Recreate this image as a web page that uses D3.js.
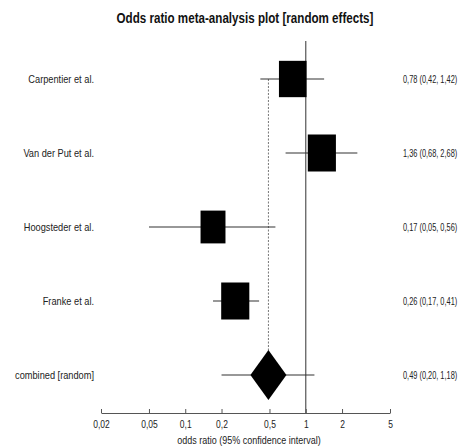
<!DOCTYPE html>
<html><head><meta charset="utf-8">
<script src="https://cdn.jsdelivr.net/npm/d3@7"></script>
<style>
body{margin:0;background:#fff;}
text{font-family:"Liberation Sans",Arial,sans-serif;fill:#222;}
</style></head>
<body>
<svg id="chart" width="461" height="448"></svg>
<script>
const studies = ["Carpentier et al.", "Van der Put et al.", "Hoogsteder et al.", "Franke et al."];
const estimates = [0.78, 1.36, 0.17, 0.26];
const lower = [0.42, 0.68, 0.05, 0.17];
const upper = [1.42, 2.68, 0.56, 0.41];
const weights = [27, 28, 22, 28];
const combinedLabel = "combined [random]";
const combinedEst = [0.49];
const combinedLower = [0.20];
const combinedUpper = [1.18];
const tickValues = [0.02, 0.05, 0.1, 0.2, 0.5, 1, 2, 5];
const tickLabels = ["0,02", "0,05", "0,1", "0,2", "0,5", "1", "2", "5"];
const title = "Odds ratio meta-analysis plot [random effects]";
const xTitle = "odds ratio (95% confidence interval)";

const fmt = v => v.toFixed(2).replace(".", ",");
const svg = d3.select("#chart");
const x = d3.scaleLog().domain([0.02, 5]).range([101, 390]);
const rows = studies.concat([combinedLabel]);
const y = d3.scalePoint().domain(rows).range([79, 375]);
const boxH = d3.scaleSqrt().domain([0, 28]).range([0, 37]);

// condensed text helper (horizontal squeeze like the reference)
function ctext(sel, px, py, sx, size, anchor) {
  return sel.append("text").attr("transform", `translate(${px},${py}) scale(${sx},1)`)
    .attr("text-anchor", anchor || "start").style("font-size", size + "px");
}

ctext(svg, 245, 23, 0.83, 14, "middle").style("font-weight", "bold").style("fill", "#111").text(title);

// reference line at 1
svg.append("line").attr("x1", x(1)).attr("x2", x(1)).attr("y1", 41).attr("y2", 413)
  .attr("stroke", "#555").attr("stroke-width", 1.2);
// dotted line at combined estimate
svg.append("line").attr("x1", x(combinedEst[0])).attr("x2", x(combinedEst[0])).attr("y1", y(studies[0])).attr("y2", 351)
  .attr("stroke", "#777").attr("stroke-width", 1).attr("stroke-dasharray", "2,1.5");

const data = studies.map((s, i) => ({s, est: estimates[i], lo: lower[i], hi: upper[i], w: weights[i]}));
const g = svg.append("g");
g.selectAll("line.ci").data(data).join("line").attr("class", "ci")
  .attr("x1", d => x(d.lo)).attr("x2", d => x(d.hi))
  .attr("y1", d => y(d.s)).attr("y2", d => y(d.s)).attr("stroke", "#333").attr("stroke-width", 1.2);
g.selectAll("rect").data(data).join("rect")
  .attr("x", d => x(d.est) - boxH(d.w) * 0.38).attr("width", d => boxH(d.w) * 0.76)
  .attr("y", d => y(d.s) - boxH(d.w) / 2).attr("height", d => boxH(d.w)).attr("fill", "#000");

data.forEach(d => {
  ctext(svg, 94, y(d.s) + 3.5, 0.88, 10.5, "end").text(d.s);
  ctext(svg, 403, y(d.s) + 3.5, 0.74, 10).text(`${fmt(d.est)} (${fmt(d.lo)}, ${fmt(d.hi)})`);
});

// combined
const cy = y(combinedLabel);
svg.append("line").attr("x1", x(combinedLower[0])).attr("x2", x(combinedUpper[0])).attr("y1", cy).attr("y2", cy)
  .attr("stroke", "#333").attr("stroke-width", 1.2);
const cx = x(combinedEst[0]);
svg.append("path").attr("d", `M${cx - 18},${cy}L${cx},${cy - 25}L${cx + 18},${cy}L${cx},${cy + 25}Z`).attr("fill", "#000");
ctext(svg, 94, cy + 3.5, 0.88, 10.5, "end").text(combinedLabel);
ctext(svg, 403, cy + 3.5, 0.74, 10).text(`${fmt(combinedEst[0])} (${fmt(combinedLower[0])}, ${fmt(combinedUpper[0])})`);

// axis
const axis = d3.axisBottom(x).tickValues(tickValues).tickFormat((d, i) => tickLabels[i]).tickSizeInner(-4).tickSizeOuter(0).tickPadding(8);
const ax = svg.append("g").attr("transform", "translate(0,413)").call(axis);
ax.select(".domain").attr("stroke", "#555");
ax.selectAll(".tick line").attr("stroke", "#555");
ax.selectAll(".tick text").style("font-size", "10px").style("font-family", '"Liberation Sans",Arial,sans-serif')
  .attr("fill", "#222").attr("transform", "scale(0.85,1)");
ctext(svg, 249, 444, 0.9, 10, "middle").text(xTitle);
</script>
</body></html>
